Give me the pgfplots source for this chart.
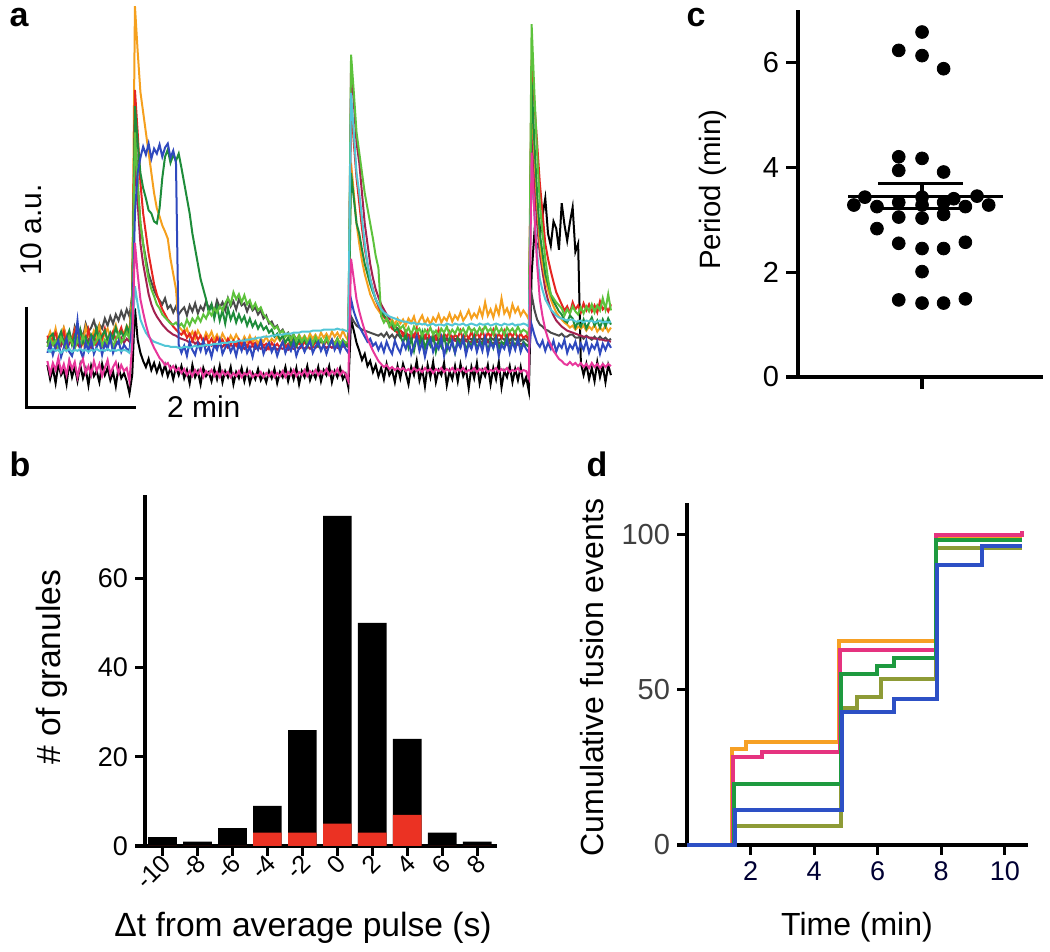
\documentclass[border=0pt]{standalone}
\usepackage{fontspec}
\setmainfont{Liberation Sans}
\usepackage{pgfplots}
\usepackage{pgfplotstable}
\pgfplotsset{compat=1.18}

\definecolor{aor}{HTML}{F5A01E}
\definecolor{ard}{HTML}{E52521}
\definecolor{adg}{HTML}{1E8C3A}
\definecolor{alg}{HTML}{5DC23C}
\definecolor{abl}{HTML}{2F49BE}
\definecolor{agy}{HTML}{4A4A4A}
\definecolor{acy}{HTML}{52C6D6}
\definecolor{amg}{HTML}{E8379B}
\definecolor{amr}{HTML}{A3214F}
\definecolor{bred}{HTML}{EB3223}
\definecolor{dor}{HTML}{F6A024}
\definecolor{dpk}{HTML}{E5337F}
\definecolor{dgr}{HTML}{1E9A3F}
\definecolor{dol}{HTML}{8E9B36}
\definecolor{dbl}{HTML}{2D50C5}

\newcommand{\fs}[1]{\fontsize{#1}{#1}\selectfont}

% panel a traces: time (min), intensity (a.u.)
\pgfplotstableread{
t O R DG LG B K G C M MR
0.00 1.5 1.9 1.2 0.8 0.2 -1.0 1.2 0.5 -0.6 1.3
0.05 2.3 1.1 1.8 1.6 1.1 -2.4 2.0 0.3 -1.9 0.7
0.10 1.4 1.7 2.1 1.0 0.0 -1.3 1.3 0.6 -0.8 1.2
0.15 2.6 2.2 0.9 1.4 0.9 -2.8 2.4 0.4 -1.5 0.6
0.20 1.2 1.0 1.6 0.6 1.4 -0.9 1.6 0.5 -0.3 1.4
0.25 2.0 1.6 2.3 1.7 -0.2 -2.0 1.1 0.2 -1.7 0.9
0.30 2.7 2.3 1.1 1.1 0.7 -1.5 2.6 0.5 -0.9 1.5
0.35 1.6 0.9 1.7 0.7 1.6 -2.9 1.8 0.4 -2.0 0.5
0.40 2.2 1.8 2.4 1.8 0.3 -0.8 2.2 0.6 -0.5 1.1
0.45 1.3 1.3 1.0 1.2 -0.1 -2.2 1.4 0.3 -1.4 1.6
0.50 2.5 2.4 1.9 0.6 1.0 -1.2 2.8 0.5 -0.7 0.8
0.55 1.7 1.1 1.3 1.5 3.4 -2.6 2.0 0.4 -2.2 1.2
0.60 2.1 1.6 2.5 1.0 0.5 -1.0 2.5 0.6 -1.0 0.6
0.65 1.1 2.0 1.2 1.9 -0.3 -2.3 1.7 0.4 -0.4 1.4
0.70 2.8 1.2 1.8 1.2 1.2 -1.4 3.1 0.5 -1.8 1.0
0.75 1.9 2.5 0.8 0.7 0.4 -3.0 2.3 0.3 -1.1 1.5
0.80 1.5 1.4 2.0 1.6 1.5 -1.1 2.7 0.5 -2.0 0.7
0.85 2.4 1.9 1.5 1.0 0.1 -2.1 3.4 0.4 -0.6 1.2
0.90 1.8 1.0 2.6 1.4 0.8 -1.6 2.4 0.6 -1.6 0.9
0.95 2.9 2.2 1.3 2.0 1.3 -2.7 3.0 0.4 -0.9 1.6
1.00 1.4 1.6 1.9 0.9 0.0 -0.9 2.6 0.5 -2.1 0.8
1.05 2.2 2.6 2.4 1.5 1.1 -2.0 3.6 0.4 -1.3 1.3
1.10 2.6 1.3 1.4 1.1 0.6 -1.3 2.9 0.6 -0.5 1.0
1.15 1.6 1.8 2.2 1.8 1.7 -2.5 3.8 0.4 -1.9 1.5
1.20 2.3 2.3 1.6 0.8 0.2 -1.7 3.1 0.5 -1.2 0.7
1.25 3.0 1.5 2.7 1.5 0.9 -3.1 4.0 0.4 -0.7 1.3
1.30 1.9 2.0 1.8 2.1 1.4 -1.2 3.4 0.5 -1.8 1.1
1.35 2.5 2.7 2.3 1.2 0.3 -2.3 4.3 0.4 -1.0 1.7
1.40 2.1 1.7 1.7 1.7 1.0 -1.8 3.6 0.5 -1.6 1.2
1.45 2.9 2.3 2.8 2.2 0.6 -2.6 4.5 0.4 -1.3 1.6
1.50 2.4 1.9 2.1 1.6 0.4 -3.8 3.8 0.2 -2.6 1.3
1.55 6 5 5 4.5 3 -2.0 6 1.5 1.0 4.5
1.60 34.5 26.2 24.6 22 14 4.6 23.6 6.8 11.1 20
1.65 30 22 21 17 18 1.5 17 5 8 15
1.70 26 17 18 13 19.5 0.2 13 3.5 5.5 11
1.75 24 14 16.5 11 20.6 -0.6 11 2.8 4.2 9
1.80 22 12 15.5 9 19.8 -1.2 9.5 2.2 3.0 7.5
1.85 20 10 14.3 7.5 20.9 -0.4 8 1.8 2.0 6
1.90 18 8.5 14 6.5 19.4 -1.5 7.2 1.5 1.3 5
1.95 16 7 13.2 5.8 20.4 -0.8 6.4 1.3 0.7 4.3
2.00 14.5 6 13 5 19.9 -1.7 5.8 1.2 0.2 3.8
2.05 13.7 5.2 14.5 4.6 20.8 -0.9 5.4 1.1 -0.3 3.4
2.10 12.8 4.5 17.5 4.0 19.6 -1.9 5.0 1.0 -0.6 3.0
2.15 12.2 4.0 19.6 3.7 20.5 -1.0 5.6 0.9 -1.0 2.7
2.20 11.5 3.5 20.3 3.4 20.9 -2.1 4.6 0.9 -0.8 2.4
2.25 9.5 3.2 19.0 3.1 19.5 -1.3 4.9 0.8 -1.4 2.2
2.30 8.0 2.8 19.8 3.0 20.2 -2.4 4.2 0.8 -1.1 2.0
2.35 6.5 2.5 19.2 3.2 19.0 -1.2 4.8 0.8 -1.6 1.9
2.40 2.8 2.2 19.9 2.8 1.0 -2.0 4.0 0.7 -1.3 1.7
2.45 2.5 2.0 18.5 3.1 0.2 -1.1 4.4 0.7 -1.8 1.6
2.50 2.1 2.4 17.0 2.7 0.9 -2.3 4.7 0.8 -1.4 1.5
2.55 2.6 1.7 15.5 3.5 -0.1 -1.5 3.9 0.8 -2.0 1.4
2.60 1.8 2.1 14.0 2.9 1.3 -2.8 4.9 0.7 -1.6 1.2
2.65 2.3 1.4 12.0 3.6 0.5 -1.0 4.3 0.8 -2.1 1.4
2.70 1.6 2.2 10.5 3.2 0.0 -2.2 5.1 0.9 -1.5 1.1
2.75 2.4 1.5 9.0 3.8 1.1 -1.6 4.1 0.8 -1.9 1.3
2.80 1.9 1.9 7.5 3.3 0.4 -2.9 4.8 0.9 -1.4 1.0
2.85 1.4 1.2 6.5 4.0 1.4 -1.3 4.4 0.9 -2.2 1.2
2.90 2.2 1.8 5.5 3.6 0.2 -2.1 5.3 1.0 -1.6 0.9
2.95 1.7 1.1 4.2 4.3 0.8 -1.7 4.6 1.0 -1.9 1.1
3.00 2.3 1.6 5.0 3.9 -0.2 -2.6 5.0 1.0 -1.5 0.9
3.05 1.5 1.0 3.6 4.6 1.0 -1.4 4.2 1.1 -2.1 1.2
3.10 2.0 1.7 4.8 4.2 0.5 -2.4 5.4 1.1 -1.7 0.8
3.15 1.3 1.2 3.4 4.8 1.5 -1.1 4.7 1.1 -2.2 1.0
3.20 2.1 1.5 4.4 4.4 0.1 -2.7 5.2 1.2 -1.6 0.8
3.25 1.6 0.9 3.1 5.1 0.7 -1.6 4.4 1.2 -2.0 1.1
3.30 1.2 1.6 4.6 5.6 1.2 -2.2 5.6 1.2 -1.7 0.7
3.35 1.9 1.1 3.5 5.0 0.3 -1.2 4.8 1.3 -2.2 1.0
3.40 1.4 1.4 4.2 6.2 0.9 -2.9 5.3 1.3 -1.8 0.8
3.45 2.0 0.9 3.2 5.5 -0.1 -1.7 4.5 1.3 -2.1 1.1
3.50 1.5 1.5 4.0 6.0 1.1 -2.3 5.5 1.4 -1.6 0.7
3.55 1.1 1.0 3.3 5.2 0.4 -1.3 4.9 1.4 -2.2 0.9
3.60 1.8 1.3 3.8 5.9 1.3 -2.6 5.1 1.4 -1.8 0.6
3.65 1.3 0.8 2.9 5.0 0.2 -1.5 4.3 1.5 -2.0 0.9
3.70 1.9 1.4 3.6 5.4 0.8 -2.8 5.0 1.5 -1.6 0.7
3.75 1.2 1.0 2.8 4.6 -0.2 -1.8 4.4 1.6 -2.2 0.9
3.80 1.7 1.2 3.3 5.1 1.0 -2.4 4.7 1.6 -1.9 0.6
3.85 1.1 0.7 2.6 4.4 0.5 -1.4 4.0 1.7 -2.1 0.8
3.90 1.6 1.3 3.1 4.7 1.4 -2.5 4.4 1.7 -1.7 0.6
3.95 1.3 0.9 2.5 4.0 0.1 -1.9 3.6 1.8 -2.2 0.8
4.00 1.8 1.1 2.8 3.7 0.8 -2.7 3.9 1.8 -1.8 0.5
4.05 1.2 0.6 2.2 3.3 1.2 -1.6 3.1 1.8 -2.1 0.8
4.10 1.6 1.2 2.5 3.0 0.3 -2.3 3.3 1.9 -1.7 0.6
4.15 1.3 0.8 1.8 2.6 0.9 -1.4 2.7 1.9 -2.2 0.8
4.20 1.8 1.1 2.1 2.8 -0.1 -2.8 2.9 2.0 -1.8 0.5
4.25 1.4 0.7 1.5 2.2 0.7 -1.7 2.2 2.0 -2.1 0.7
4.30 1.9 1.3 1.9 2.4 1.3 -2.2 2.5 2.0 -1.6 0.6
4.35 1.2 0.8 1.2 1.8 0.2 -1.2 1.9 2.1 -2.2 0.8
4.40 1.7 1.1 1.7 2.1 0.9 -2.6 2.2 2.1 -1.7 0.5
4.45 1.3 0.7 1.0 1.6 0.4 -1.5 1.7 2.1 -2.0 0.7
4.50 1.8 1.4 1.6 2.0 1.2 -2.4 2.0 2.2 -1.5 0.6
4.55 1.4 0.9 0.9 1.4 -0.1 -1.3 1.5 2.2 -2.1 0.8
4.60 2.0 1.2 1.5 1.9 0.7 -2.9 1.9 2.2 -1.7 0.6
4.65 1.5 0.8 1.1 1.3 1.0 -1.6 1.4 2.3 -2.0 0.8
4.70 1.9 1.3 1.7 1.8 0.3 -2.2 1.8 2.3 -1.5 0.6
4.75 1.4 0.9 0.8 1.2 0.9 -1.1 1.3 2.3 -2.1 0.9
4.80 2.1 1.4 1.4 1.7 1.4 -2.5 1.7 2.3 -1.6 0.6
4.85 1.6 0.8 1.0 1.1 0.2 -1.7 1.2 2.4 -1.9 0.8
4.90 2.0 1.3 1.6 1.8 0.8 -2.3 1.6 2.4 -1.5 0.7
4.95 1.5 1.0 0.9 1.2 1.3 -1.2 1.1 2.4 -2.0 0.9
5.00 2.2 1.5 1.5 1.6 0.4 -2.6 1.5 2.4 -1.6 0.6
5.05 1.7 0.9 1.1 1.0 1.0 -1.5 1.0 2.5 -1.9 0.9
5.10 2.1 1.4 1.7 1.7 0.1 -2.0 1.4 2.5 -1.4 0.7
5.15 1.6 1.0 0.9 1.1 0.9 -1.1 1.0 2.5 -2.0 0.9
5.20 2.3 1.5 1.4 1.5 1.5 -2.7 1.4 2.5 -1.6 0.7
5.25 1.8 1.1 1.0 1.0 0.5 -1.6 0.9 2.5 -1.9 1.0
5.30 2.2 1.6 1.6 1.6 1.1 -2.2 1.3 2.6 -1.4 0.7
5.35 1.7 1.0 0.8 1.1 0.3 -1.3 1.0 2.5 -2.0 0.9
5.40 2.4 1.5 1.4 1.5 1.2 -2.4 1.3 2.5 -1.6 0.8
5.45 1.8 1.1 1.0 1.2 0.6 -1.9 1.1 2.4 -1.9 0.9
5.50 1.4 1.0 0.8 1.3 0.2 -3.2 1.0 2.3 -2.6 0.8
5.55 19 25 18 29.7 5.5 3.5 3.8 25.9 9.5 28.5
5.60 16 21 15.5 26 4.3 2.4 3.3 22 7.5 25
5.65 13 17.5 13 22 3.5 1.2 2.9 18 5.5 21
5.70 11 15 12 20 2.8 0.4 2.7 16 4.3 19
5.75 9.3 12.5 10.4 18 2.3 -0.5 2.5 13.5 3.3 16
5.80 8 10.5 9 16 1.8 0.1 2.4 11 2.4 13
5.85 7 9 8 14.5 1.3 -1.1 2.3 9 1.6 11
5.90 6 7.5 7 13 1.6 -0.6 2.2 7.5 1.0 9
5.95 5.4 6.5 6.2 11.5 0.9 -1.7 2.1 6.4 0.4 7.6
6.00 4.8 5.5 5.5 9.8 1.2 -1.0 2.0 5.5 -0.1 6.5
6.05 4.4 4.8 5.0 8.6 0.5 -2.1 1.9 5.0 -0.6 5.7
6.10 4.0 4.2 4.5 3.8 1.1 -1.3 2.1 4.5 -0.9 5.0
6.15 3.7 3.8 3.9 3.2 0.3 -2.4 1.8 4.2 -1.2 4.5
6.20 3.6 3.4 3.6 3.6 1.3 -0.9 2.2 4.0 -1.0 4.0
6.25 3.2 3.0 3.1 2.8 0.6 -2.0 1.7 3.8 -1.4 3.6
6.30 3.5 2.6 3.0 3.3 0.1 -1.5 2.0 3.7 -1.2 3.2
6.35 3.0 2.4 2.4 2.7 1.4 -2.7 1.6 3.6 -1.5 2.9
6.40 3.6 2.2 2.6 3.1 0.7 -1.1 2.1 3.5 -1.3 2.6
6.45 3.1 2.5 1.9 2.6 0.2 -2.3 1.7 3.4 -1.5 2.4
6.50 3.5 1.9 1.2 2.9 1.3 -0.9 2.0 3.3 -1.3 2.2
6.55 2.9 2.4 2.1 2.2 0.6 -1.8 1.6 3.3 -1.6 2.1
6.60 3.6 1.6 0.7 2.7 1.5 -2.9 1.9 3.2 -1.4 2.0
6.65 3.2 2.2 1.6 2.0 0.1 -1.2 1.4 3.1 -1.7 1.9
6.70 3.8 1.8 0.4 2.8 0.9 -2.0 2.0 3.2 -1.3 1.8
6.75 2.8 2.6 1.8 2.3 1.8 -0.6 1.5 3.0 -1.6 1.8
6.80 3.4 1.5 1.0 2.6 0.4 -2.5 1.8 3.1 -1.4 1.7
6.85 3.9 2.1 2.2 1.9 1.2 -1.4 1.3 3.0 -1.7 1.8
6.90 3.1 1.7 0.6 2.5 -0.2 -3.1 1.9 3.1 -1.3 1.6
6.95 3.6 2.4 1.5 2.1 1.0 -1.0 1.5 2.9 -1.6 1.7
7.00 3.0 1.3 0.9 2.7 1.6 -2.2 1.7 3.0 -1.4 1.5
7.05 3.7 2.0 2.0 2.0 0.3 -0.7 1.4 3.1 -1.8 1.6
7.10 3.3 1.6 0.3 2.4 1.1 -2.7 1.9 2.9 -1.4 1.5
7.15 4.0 2.5 1.4 1.8 0.6 -1.5 1.4 3.0 -1.6 1.4
7.20 3.2 1.4 0.8 2.6 1.7 -2.0 1.8 3.0 -1.3 1.6
7.25 3.7 2.1 1.9 2.2 -0.1 -0.8 1.5 2.9 -1.7 1.4
7.30 3.4 1.8 0.5 2.8 1.0 -3.0 1.7 3.1 -1.4 1.5
7.35 4.1 2.3 1.7 2.0 0.5 -1.6 1.3 3.0 -1.6 1.3
7.40 3.3 1.5 1.1 2.5 1.4 -2.4 1.8 2.9 -1.3 1.5
7.45 3.9 2.0 0.2 2.1 0.2 -1.1 1.5 3.1 -1.7 1.4
7.50 3.5 1.7 1.6 2.7 1.2 -2.6 1.7 3.0 -1.4 1.3
7.55 4.2 2.4 0.9 2.2 0.7 -0.9 1.4 3.0 -1.6 1.4
7.60 3.4 1.4 1.8 2.6 1.6 -2.1 1.8 3.1 -1.3 1.3
7.65 3.8 2.1 0.4 2.0 0.0 -1.4 1.4 2.9 -1.7 1.4
7.70 4.4 1.6 1.3 2.8 1.1 -3.3 1.7 3.0 -1.5 1.2
7.75 3.6 2.3 0.8 2.3 0.6 -1.2 1.5 3.1 -1.6 1.3
7.80 4.1 1.5 1.9 2.6 1.5 -2.3 1.8 3.0 -1.3 1.2
7.85 3.7 2.2 0.5 2.1 0.3 -0.8 1.4 2.9 -1.7 1.3
7.90 4.6 1.7 1.4 2.7 1.3 -2.8 1.7 3.1 -1.4 1.2
7.95 3.8 2.4 1.0 2.2 0.4 -1.5 1.5 3.0 -1.6 1.3
8.00 5.2 1.6 1.7 2.9 1.7 -2.1 1.8 3.0 -1.3 1.1
8.05 3.9 2.2 0.3 2.3 0.1 -1.0 1.4 3.1 -1.7 1.3
8.10 4.5 1.8 1.5 2.6 1.2 -2.9 1.7 2.9 -1.5 1.1
8.15 3.7 2.5 0.7 2.0 0.7 -1.3 1.5 3.0 -1.6 1.2
8.20 4.8 1.6 1.8 2.8 1.6 -2.4 1.8 3.1 -1.3 1.1
8.25 4.0 2.1 0.6 2.2 -0.1 -0.7 1.4 3.0 -1.7 1.2
8.30 5.6 1.7 1.3 2.6 1.0 -3.2 1.7 2.9 -1.4 1.0
8.35 4.1 2.4 1.0 2.0 0.6 -1.6 1.5 3.1 -1.6 1.2
8.40 4.6 1.5 1.9 2.7 1.5 -2.2 1.8 3.0 -1.3 1.0
8.45 3.8 2.2 0.4 2.3 0.2 -1.1 1.4 3.0 -1.7 1.2
8.50 5.0 1.8 1.5 2.6 1.3 -2.7 1.7 3.1 -1.5 1.0
8.55 4.2 2.3 0.8 2.1 0.5 -1.4 1.5 2.9 -1.6 1.1
8.60 4.7 1.6 1.6 2.8 1.6 -2.5 1.8 3.0 -1.3 1.0
8.65 3.9 2.1 0.5 2.2 0.3 -1.2 1.4 3.0 -1.7 1.1
8.70 4.4 1.7 1.3 2.5 1.1 -2.9 1.6 3.1 -1.5 1.0
8.75 4.0 1.9 1.0 2.3 0.6 -2.2 1.5 3.0 -1.6 1.0
8.80 3.5 1.4 0.8 1.9 0.2 -3.6 1.3 2.8 -2.3 0.9
8.85 26 29.2 27 32.7 3.0 8 6 19 20 22
8.90 20 25 21 26 2.0 12 4.5 14 14 17
8.95 15 21 16 20 1.2 10.5 3.5 10 9 13
9.00 11 17 12 15 0.8 11.5 3.0 7.5 5.5 10
9.05 9 14 10 12 1.4 13.8 2.8 6.4 3.8 8.2
9.10 7.5 11 8 9.5 0.4 15.5 2.5 5.5 2.5 6.5
9.15 6.4 9.5 7 7.5 1.2 12.0 2.4 5.0 1.6 5.4
9.20 5.5 8.3 6 6 0.6 10.8 2.2 4.5 1.0 4.5
9.25 4.8 7.2 5.3 5.6 1.4 13.2 2.1 4.2 0.4 3.9
9.30 4.2 6.2 4.8 5.2 0.3 12.5 2.0 3.9 0.0 3.4
9.35 3.8 5.6 4.3 4.9 1.1 10.4 1.9 3.7 -0.4 3.1
9.40 3.5 5.0 4.0 4.6 0.7 15.0 2.1 3.6 -0.6 2.8
9.45 3.2 4.4 3.4 3.9 1.5 12.9 1.8 3.5 -0.9 2.6
9.50 3.0 4.8 3.2 4.5 0.2 11.3 1.8 3.4 -1.0 2.4
9.55 2.7 4.1 3.9 4.1 1.0 13.1 2.0 3.5 -0.7 2.3
9.60 2.9 5.2 3.6 4.8 0.6 14.6 2.0 3.5 -1.0 2.2
9.65 2.5 4.5 2.7 4.3 1.3 10.2 1.7 3.3 -0.8 2.1
9.70 2.8 4.9 3.3 4.0 0.3 11.0 1.7 3.3 -1.1 2.0
9.75 2.6 4.2 2.8 4.7 1.1 -0.8 1.9 3.4 -0.8 1.9
9.80 2.9 5.1 3.5 4.1 0.5 -2.0 1.6 3.2 -1.2 1.8
9.85 2.4 4.4 2.6 4.8 1.4 -0.9 1.9 3.4 -0.9 1.8
9.90 2.8 5.0 3.2 4.3 0.2 -2.4 1.7 3.3 -1.3 1.7
9.95 2.5 4.3 3.7 5.0 1.0 -1.3 1.5 3.4 -0.8 1.7
10.00 3.0 4.9 2.9 4.2 0.6 -2.6 1.8 3.2 -1.2 1.6
10.05 2.3 4.2 3.4 4.9 1.3 -0.7 1.5 3.3 -0.9 1.6
10.10 2.7 5.3 2.7 4.4 0.1 -2.2 1.8 3.4 -1.3 1.5
10.15 2.4 4.5 3.5 5.6 1.1 -1.1 1.5 3.2 -0.9 1.5
10.20 2.9 4.8 2.8 4.5 0.5 -2.7 1.7 3.3 -1.2 1.4
10.25 2.3 4.3 3.6 6.0 1.2 -1.0 1.4 3.2 -0.9 1.4
10.30 2.7 5.0 3.0 4.4 0.7 -2.0 1.6 3.3 -1.1 1.3
}\tracedata

% panel b histogram
\pgfplotstableread{
dt all red
-10 2 0
-8 1 0
-6 4 0
-4 9 3
-2 26 3
0 74 5
2 50 3
4 24 7
6 3 0
8 1 0
}\histdata

\pgfplotsset{
  panel/.style={scale only axis, anchor=south west,
    axis x line*=bottom, axis y line*=left, tick align=outside,
    axis line style={line width=1.6pt,-},
    every tick/.style={black, line width=1.6pt},
    major tick length=5pt,
    /pgf/number format/assume math mode=true,
    clip=false},
}

\begin{document}
\begin{tikzpicture}
\path[use as bounding box] (0,0) rectangle (525pt,476pt);

% ---------- panel a ----------
\begin{axis}[at={(23.7pt,272pt)}, anchor=south west, scale only axis,
  width=281.5pt, height=204pt, xmin=0, xmax=10.29, ymin=-5.25, ymax=35.1,
  hide axis, clip=false]
\addplot[black, line width=1pt] table[x=t, y=K]{\tracedata};
\addplot[agy, line width=1pt] table[x=t, y=G]{\tracedata};
\addplot[amr, line width=1pt] table[x=t, y=MR]{\tracedata};
\addplot[aor, line width=1pt] table[x=t, y=O]{\tracedata};
\addplot[ard, line width=1pt] table[x=t, y=R]{\tracedata};
\addplot[adg, line width=1pt] table[x=t, y=DG]{\tracedata};
\addplot[alg, line width=1pt] table[x=t, y=LG]{\tracedata};
\addplot[abl, line width=1pt] table[x=t, y=B]{\tracedata};
\addplot[acy, line width=1pt] table[x=t, y=C]{\tracedata};
\addplot[amg, line width=1pt] table[x=t, y=M]{\tracedata};
\draw[line width=1.5pt] (axis cs:-0.375,4.75) -- (axis cs:-0.375,-5.25) -- (axis cs:1.627,-5.25);
\end{axis}
\node[rotate=90, font=\fs{15}] at (15.8pt,361pt) {10 a.u.};
\node[anchor=west, font=\fs{15}] at (80pt,272.5pt) {2 min};

% ---------- panel b ----------
\begin{axis}[panel, at={(72.5pt,53pt)},
  width=176pt, height=175.5pt, xmin=-11, xmax=9.13, ymin=0, ymax=78.7,
  xtick={-10,-8,-6,-4,-2,0,2,4,6,8},
  xticklabels={-10,-8,-6,-4,-2,0,2,4,6,8},
  ytick={0,20,40,60},
  xticklabel style={rotate=45, anchor=east, font=\fs{12.5}, xshift=1.5pt, yshift=-2.5pt, inner sep=1pt},
  yticklabel style={font=\fs{13.5}},
  xlabel={Δt from average pulse (s)},
  ylabel={\# of granules},
  xlabel style={font=\fs{16.8}, at={(axis description cs:0.449,-0.234)}, anchor=center},
  ylabel style={font=\fs{16.8}, at={(axis description cs:-0.264,0.51)}, anchor=center, rotate=0}]
\addplot[ybar, bar width=1.64, bar shift=0pt, fill=black, draw=none] table[x=dt, y=all]{\histdata};
\addplot[ybar, bar width=1.64, bar shift=0pt, fill=bred, draw=none] table[x=dt, y=red]{\histdata};
\end{axis}

% ---------- panel c ----------
\begin{axis}[panel, at={(399pt,287.5pt)},
  width=122.5pt, height=183.5pt, xmin=-5.64, xmax=5.5, ymin=0, ymax=7,
  major tick length=6pt,
  xtick={0}, xticklabels={},
  ytick={0,2,4,6},
  yticklabel style={font=\fs{14.5}},
  ylabel={Period (min)},
  ylabel style={font=\fs{14.7}, at={(axis description cs:-0.346,0.51)}, anchor=center}]
\addplot[only marks, mark=*, mark size=3.2pt, black] coordinates {
(0,6.58) (-1.06,6.23) (0,6.13) (0.98,5.88)
(-1.06,4.20) (0,4.17) (-1.06,3.94) (0.98,3.91)
(-3.1,3.28) (-2.6,3.43) (-2.05,3.25) (-1.06,3.33) (0,3.43) (0,3.28)
(0.98,3.33) (1.44,3.40) (1.97,3.25) (2.5,3.45) (3.03,3.28)
(-1.06,3.05) (0,3.03) (0.98,3.10)
(-2.05,2.83)
(-1.06,2.55) (0,2.45) (0.98,2.45) (1.97,2.57)
(0,2.01)
(-1.06,1.47) (0,1.41) (0.98,1.41) (1.97,1.49)
};
\addplot[black, line width=1.6pt] coordinates {(-3.36,3.45) (3.68,3.45)};
\addplot[black, line width=1.6pt] coordinates {(-2.0,3.69) (1.86,3.69)};
\addplot[black, line width=1.6pt] coordinates {(-2.0,3.21) (1.86,3.21)};
\addplot[black, line width=1.6pt] coordinates {(0,3.21) (0,3.69)};
\end{axis}

% ---------- panel d ----------
\begin{axis}[panel, at={(343.5pt,53.5pt)},
  width=170.5pt, height=170.8pt, xmin=0, xmax=10.73, ymin=0, ymax=110,
  xtick={2,4,6,8,10}, ytick={0,50,100},
  xticklabel style={font=\fs{13.5}, color=black!80!blue},
  yticklabel style={font=\fs{14.5}, color=black!75},
  xlabel={Time (min)},
  ylabel={Cumulative fusion events},
  xlabel style={font=\fs{16}, at={(axis description cs:0.4985,-0.24)}, anchor=center},
  ylabel style={font=\fs{16}, at={(axis description cs:-0.279,0.49)}, anchor=center}]
\addplot[const plot, dor, line width=2pt] coordinates {(0,0) (1.43,31) (1.86,33.3) (4.77,65.8) (7.85,99.2) (10.53,99.2)};
\addplot[const plot, dpk, line width=2pt] coordinates {(0,0) (1.45,28.4) (2.37,29.8) (4.8,62.8) (7.85,99.8) (10.45,99.8) (10.53,101)};
\addplot[const plot, dol, line width=2pt] coordinates {(0,0) (1.5,6.1) (4.85,44) (5.35,47.5) (6.1,53.6) (7.85,95.5) (10.53,95.5)};
\addplot[const plot, dgr, line width=2pt] coordinates {(0,0) (1.48,19.8) (4.85,55) (5.98,57.6) (6.5,60.1) (7.85,98.2) (10.53,98.2)};
\addplot[const plot, dbl, line width=2pt] coordinates {(0,0) (1.5,11.3) (4.87,42.9) (6.5,47.1) (7.86,90.3) (9.27,96.4) (10.53,96.4)};
\end{axis}

% panel letters
\node[anchor=base, font=\fs{17}\bfseries] at (9.5pt,462.5pt) {a};
\node[anchor=base, font=\fs{17}\bfseries] at (348pt,462.5pt) {c};
\node[anchor=base, font=\fs{17}\bfseries] at (10pt,237.5pt) {b};
\node[anchor=base, font=\fs{17}\bfseries] at (298.5pt,237.5pt) {d};
\end{tikzpicture}
\end{document}
